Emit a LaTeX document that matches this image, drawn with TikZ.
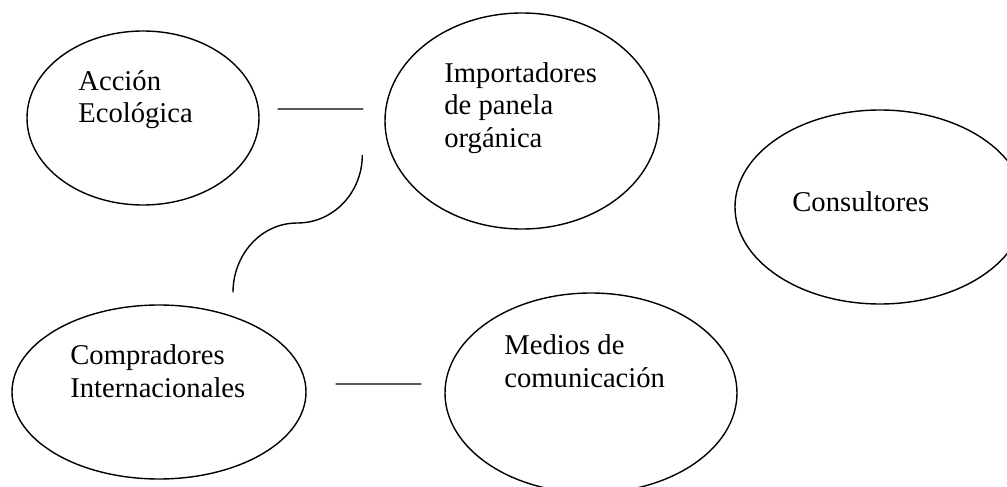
\documentclass[tikz,border=0pt]{standalone}
\usepackage{fontspec}
\setmainfont{Liberation Serif}
\usetikzlibrary{calc,shapes.geometric}

\begin{document}
\begin{tikzpicture}[
	actor/.style={draw, ellipse, thick, inner sep=0pt},
	lbl/.style={anchor=base west, align=left, inner sep=0pt, font=\fontsize{16.3}{18.4}\selectfont},
	link/.style={thick}]
	\useasboundingbox (0,0) rectangle (20.14,9.72);
	\clip (0,0) rectangle (20.14,9.72);

	\node[actor, minimum width=4.64cm, minimum height=3.48cm] (acc) at (2.86,7.36) {};	%top left
	\node[actor, minimum width=5.48cm, minimum height=4.32cm] (imp) at (10.44,7.30) {};	%top middle
	\node[actor, minimum width=5.80cm, minimum height=3.88cm] (con) at (17.60,5.58) {};	%right
	\node[actor, minimum width=5.88cm, minimum height=3.48cm] (com) at (3.18,1.88) {};	%bottom left
	\node[actor, minimum width=5.84cm, minimum height=4.00cm] (med) at (11.82,1.86) {};	%bottom middle

	% base = baseline of the last line
	\node[lbl] (accT) at (1.56,7.26)  {Acción\\Ecológica};
	\node[lbl] (impT) at (8.88,6.78)  {Importadores\\de panela\\orgánica};
	\node[lbl] (conT) at (15.84,5.50) {Consultores};
	\node[lbl] (comT) at (1.40,1.78)  {Compradores\\Internacionales};
	\node[lbl] (medT) at (10.08,1.98) {Medios de\\comunicación};

	\draw[link] ([shift={(0.36,0.18)}]acc.east) -- ([shift={(-0.42,0.24)}]imp.west);	%acc--imp
	\draw[link] ([shift={(0.58,0.16)}]com.east) -- ([shift={(-0.46,0.18)}]med.west);	%com--med
	\draw[link] ([shift={(-0.44,-0.68)}]imp.west) to[out=-90,in=0] ++(-1.30,-1.36)
		to[out=180,in=90] ([shift={(1.48,0.24)}]com.north);	%imp--com
\end{tikzpicture}
\end{document}
